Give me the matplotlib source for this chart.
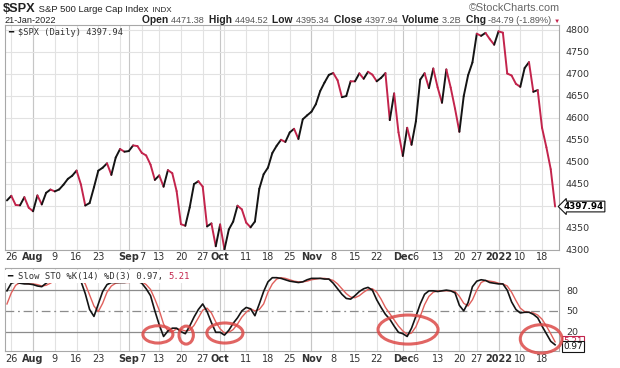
import numpy as np
import pandas as pd
import matplotlib
matplotlib.use("Agg")
import matplotlib.pyplot as plt
from matplotlib.collections import LineCollection
from matplotlib.patches import Ellipse

# trading days shown on the chart
holidays = ["2021-09-06", "2021-11-25", "2021-12-24", "2022-01-17"]
dates = pd.bdate_range("2021-07-23", "2022-01-21", freq="C", holidays=holidays)

# $SPX daily close
close = [4411.79, 4422.30, 4401.46, 4400.64, 4419.15, 4395.26,
         4387.16, 4423.15, 4402.66, 4429.10, 4436.52,
         4432.35, 4436.75, 4447.70, 4460.83, 4468.00,
         4479.71, 4448.08, 4400.27, 4405.80, 4441.67,
         4479.53, 4486.23, 4496.19, 4470.00, 4509.37,
         4528.79, 4522.68, 4524.09, 4536.95, 4535.43,
         4520.03, 4514.07, 4493.28, 4458.58,
         4468.73, 4443.05, 4480.70, 4473.75, 4432.99,
         4357.73, 4354.19, 4395.64, 4448.98, 4455.48,
         4443.11, 4352.63, 4359.46, 4307.54, 4357.04,
         4300.46, 4345.72, 4363.55, 4399.76, 4391.34,
         4361.19, 4350.65, 4363.80, 4438.26, 4471.37,
         4486.46, 4519.63, 4536.19, 4549.78, 4544.90,
         4566.48, 4574.79, 4551.68, 4596.42, 4605.38,
         4613.67, 4630.65, 4660.57, 4680.06, 4697.53,
         4701.70, 4685.25, 4646.71, 4649.27, 4682.85,
         4682.80, 4700.90, 4688.67, 4704.54, 4697.96,
         4682.94, 4690.70, 4701.46, 4594.62,
         4655.27, 4567.00, 4513.04, 4577.10, 4538.43,
         4591.67, 4686.75, 4701.21, 4667.45, 4712.02,
         4668.97, 4634.09, 4709.85, 4668.67, 4620.64,
         4568.02, 4649.23, 4696.56, 4725.79,
         4791.19, 4786.35, 4793.06, 4778.73, 4766.18,
         4796.56, 4793.54, 4700.58, 4696.05, 4677.03,
         4670.29, 4713.07, 4726.35, 4659.03, 4662.85,
         4577.11, 4532.76, 4482.73, 4397.94]

# Slow stochastic
pct_k = [79, 90, 92, 90, 89, 89, 88, 86, 85, 90,
         94, 97, 98, 99, 99, 98, 98, 93, 75, 52,
         42, 60, 78, 88, 91, 91, 91, 91, 92, 93,
         93, 90, 82, 72, 50, 30, 13, 21, 25, 25,
         20, 17, 28, 41, 52, 60, 49, 33, 19, 19,
         15, 22, 32, 40, 50, 55, 53, 43, 60, 78,
         92, 98, 98, 97, 95, 93, 92, 91, 92, 95,
         97, 97, 97, 96, 96, 90, 82, 74, 68, 67,
         72, 78, 82, 84, 80, 66, 55, 45, 38, 28,
         19, 17, 13, 25, 42, 60, 74, 79, 79, 78,
         79, 80, 79, 76, 58, 50, 62, 85, 93, 95,
         94, 91, 90, 89, 89, 80, 63, 52, 47, 48,
         48, 45, 40, 28, 17, 6, 0.97]
pct_d = [60, 76, 87, 91, 90, 89, 89, 88, 86, 87,
         90, 94, 96, 98, 99, 99, 98, 96, 89, 73,
         57, 49, 61, 77, 86, 90, 91, 91, 91, 92,
         93, 92, 88, 81, 67, 51, 31, 21, 20, 24,
         23, 21, 22, 29, 40, 51, 54, 47, 34, 24,
         18, 19, 23, 31, 41, 48, 53, 50, 52, 60,
         77, 89, 96, 98, 97, 95, 93, 92, 92, 93,
         95, 96, 97, 97, 96, 94, 89, 82, 75, 70,
         69, 72, 77, 81, 82, 77, 67, 55, 46, 37,
         28, 21, 16, 18, 27, 42, 59, 71, 77, 79,
         79, 79, 79, 78, 71, 61, 57, 66, 80, 91,
         94, 93, 92, 90, 89, 86, 77, 65, 54, 49,
         48, 47, 44, 38, 28, 17, 5.21]

tick_dates = ["2021-07-26", "2021-08-02", "2021-08-09", "2021-08-16", "2021-08-23",
              "2021-09-01", "2021-09-07", "2021-09-13", "2021-09-20", "2021-09-27",
              "2021-10-01", "2021-10-11", "2021-10-18", "2021-10-25", "2021-11-01",
              "2021-11-08", "2021-11-15", "2021-11-22", "2021-12-01", "2021-12-06",
              "2021-12-13", "2021-12-20", "2021-12-27", "2022-01-03", "2022-01-10",
              "2022-01-18"]
tick_labels = ["26", "Aug", "9", "16", "23", "Sep", "7", "13", "20", "27",
               "Oct", "11", "18", "25", "Nov", "8", "15", "22", "Dec", "6",
               "13", "20", "27", "2022", "10", "18"]
bold_labels = ["Aug", "Sep", "Oct", "Nov", "Dec", "2022"]
price_ticks = list(range(4300, 4801, 50))

# circled oversold spots: (center day index, center value, width in days, height)
circles = [(34.7, 16, 6.9, 25), (41.2, 15, 3.3, 26), (50.1, 18, 8.3, 29),
           (92.2, 23, 13.8, 42), (122.8, 9.5, 9.6, 41)]

BLACK = "#141414"
RED = "#c3244c"
DRED = "#e0605c"
W, H = 620, 368

x = np.arange(len(dates))
close = np.array(close)


def box(l, t, r, b):
    return [l / W, 1 - b / H, (r - l) / W, (b - t) / H]


fig = plt.figure(figsize=(W / 100, H / 100), dpi=100)
ax = fig.add_axes(box(5, 25, 559, 250))
ax2 = fig.add_axes(box(5, 268, 559, 351))

# grid: week starts (light) and month starts (darker)
wd = dates.weekday.values
mo = dates.month.values
weeks = [i for i in range(1, len(dates)) if wd[i] < wd[i - 1]]
months = [i for i in range(1, len(dates)) if mo[i] != mo[i - 1]]
for a in (ax, ax2):
    for i in weeks:
        a.axvline(i, color="#e2e2e2", lw=0.8, zorder=0)
    for i in months:
        a.axvline(i, color="#c6c6c6", lw=0.8, zorder=0)

# price line, black on up days and red on down days
pts = np.column_stack([x, close])
segs = np.stack([pts[:-1], pts[1:]], axis=1)
cols = np.where(np.diff(close) >= 0, BLACK, RED)
ax.add_collection(LineCollection(segs, colors=cols, linewidths=1.4,
                                 capstyle="round", joinstyle="round", zorder=3))
ax.set_xlim(-0.45, 126.9)
ax.set_ylim(4299, 4811)
ax.set_yticks(price_ticks)
# the last-value tag hides the label next to it
ax.set_yticklabels(["" if abs(v - close[-1]) < 15 else str(v) for v in price_ticks])
ax.grid(axis="y", color="#e2e2e2", lw=0.8)
ax.set_axisbelow(True)

ax2.plot(x, pct_d, color=DRED, lw=1.0, zorder=3)
ax2.plot(x, pct_k, color=BLACK, lw=1.2, zorder=4)
for lvl in (20, 80):
    ax2.axhline(lvl, color="#8c8c8c", lw=0.9, zorder=1)
ax2.axhline(50, color="#8c8c8c", lw=0.9, ls=(0, (7, 3, 1.5, 3)), zorder=1)
ax2.set_xlim(ax.get_xlim())
ax2.set_ylim(-8, 112)
ax2.set_yticks([20, 50, 80])

for cx, cy, w, h in circles:
    ax2.add_patch(Ellipse((cx, cy), w, h, fill=False, ec="#dc4a48", lw=2.2,
                          alpha=0.85, clip_on=False, zorder=6))

tick_pos = [dates.get_loc(pd.Timestamp(d)) for d in tick_dates]
for a, pad in ((ax, 1.6), (ax2, 2.4)):
    a.set_xticks(tick_pos)
    a.set_xticklabels(tick_labels)
    a.tick_params(axis="x", length=0, pad=pad, labelsize=7, colors="#333333")
    for t in a.get_xticklabels():
        if t.get_text() in bold_labels:
            t.set_fontweight("bold")
    a.yaxis.tick_right()
    a.tick_params(axis="y", length=0, pad=5, labelsize=6.8, colors="#333333")
    for s in a.spines.values():
        s.set_color("#a8a8a8")
        s.set_linewidth(0.8)

# last value tags
ax.annotate(f"{close[-1]:.2f}", xy=(ax.get_xlim()[1], close[-1]), xytext=(3.5, 0),
            textcoords="offset points", va="center", ha="left", fontsize=6.3,
            fontweight="bold", annotation_clip=False,
            bbox=dict(boxstyle="larrow,pad=0.1", fc="white", ec=BLACK, lw=0.8))
ax2.annotate(f"{pct_d[-1]:.2f}", xy=(ax2.get_xlim()[1], pct_d[-1]), xytext=(3, 0),
             textcoords="offset points", va="center", ha="left", fontsize=6.4,
             color=RED, annotation_clip=False,
             bbox=dict(boxstyle="square,pad=0.1", fc="white", ec=RED, lw=0.8))
ax2.annotate(f"{pct_k[-1]:.2f}", xy=(ax2.get_xlim()[1], pct_k[-1]), xytext=(3, -1),
             textcoords="offset points", va="center", ha="left", fontsize=6.4,
             color=BLACK, annotation_clip=False,
             bbox=dict(boxstyle="square,pad=0.1", fc="white", ec=BLACK, lw=0.8))

renderer = fig.canvas.get_renderer()


def chain(px, py, parts, **common):
    # lay text pieces one after another on a common baseline
    for s, kw in parts:
        opts = dict(common)
        opts.update(kw)
        t = fig.text(px / W, 1 - py / H, s, va="baseline", ha="left", **opts)
        px = t.get_window_extent(renderer).x1
    return t


sans = "Liberation Sans"
chain(3, 12, [("$SPX", dict(fontsize=9.2, fontweight="bold")),
              (" S&P 500 Large Cap Index", dict(fontsize=6.8)),
              ("  INDX", dict(fontsize=5.8))], family=sans, color="#222222")
fig.text(4 / W, 1 - 23 / H, "21-Jan-2022", va="baseline", fontsize=6.6,
         family=sans, color="#222222")
lab = dict(fontsize=7.4, fontweight="bold", color="#222222")
num = dict(fontsize=6.6, color="#555555")
chain(142, 23, [("Open ", lab), ("4471.38  ", num), ("High ", lab), ("4494.52  ", num),
                ("Low ", lab), ("4395.34  ", num), ("Close ", lab), ("4397.94  ", num),
                ("Volume ", lab), ("3.2B  ", num), ("Chg ", lab),
                ("-84.79 (-1.89%) ", num), ("\u25bc", dict(fontsize=4.5, color=RED))],
      family=sans)
fig.text(560 / W, 1 - 11 / H, "\u00a9StockCharts.com", ha="right", va="baseline",
         fontsize=7.8, family=sans, color="#666666")

mono = "DejaVu Sans Mono"
chain(8, 35, [("\u2501 ", dict(color=BLACK)),
              ("$SPX (Daily) 4397.94", dict(color="#333333"))],
      family=mono, fontsize=6.2)
chain(7, 279, [("\u2501 ", dict(color=BLACK)),
               ("Slow STO %K(14) %D(3) 0.97, ", dict(color="#333333")),
               ("5.21", dict(color=RED))],
      family=mono, fontsize=6.4,
      bbox=dict(boxstyle="square,pad=0.25", fc="white", ec="none"))

fig.savefig("out.png", dpi=100)
